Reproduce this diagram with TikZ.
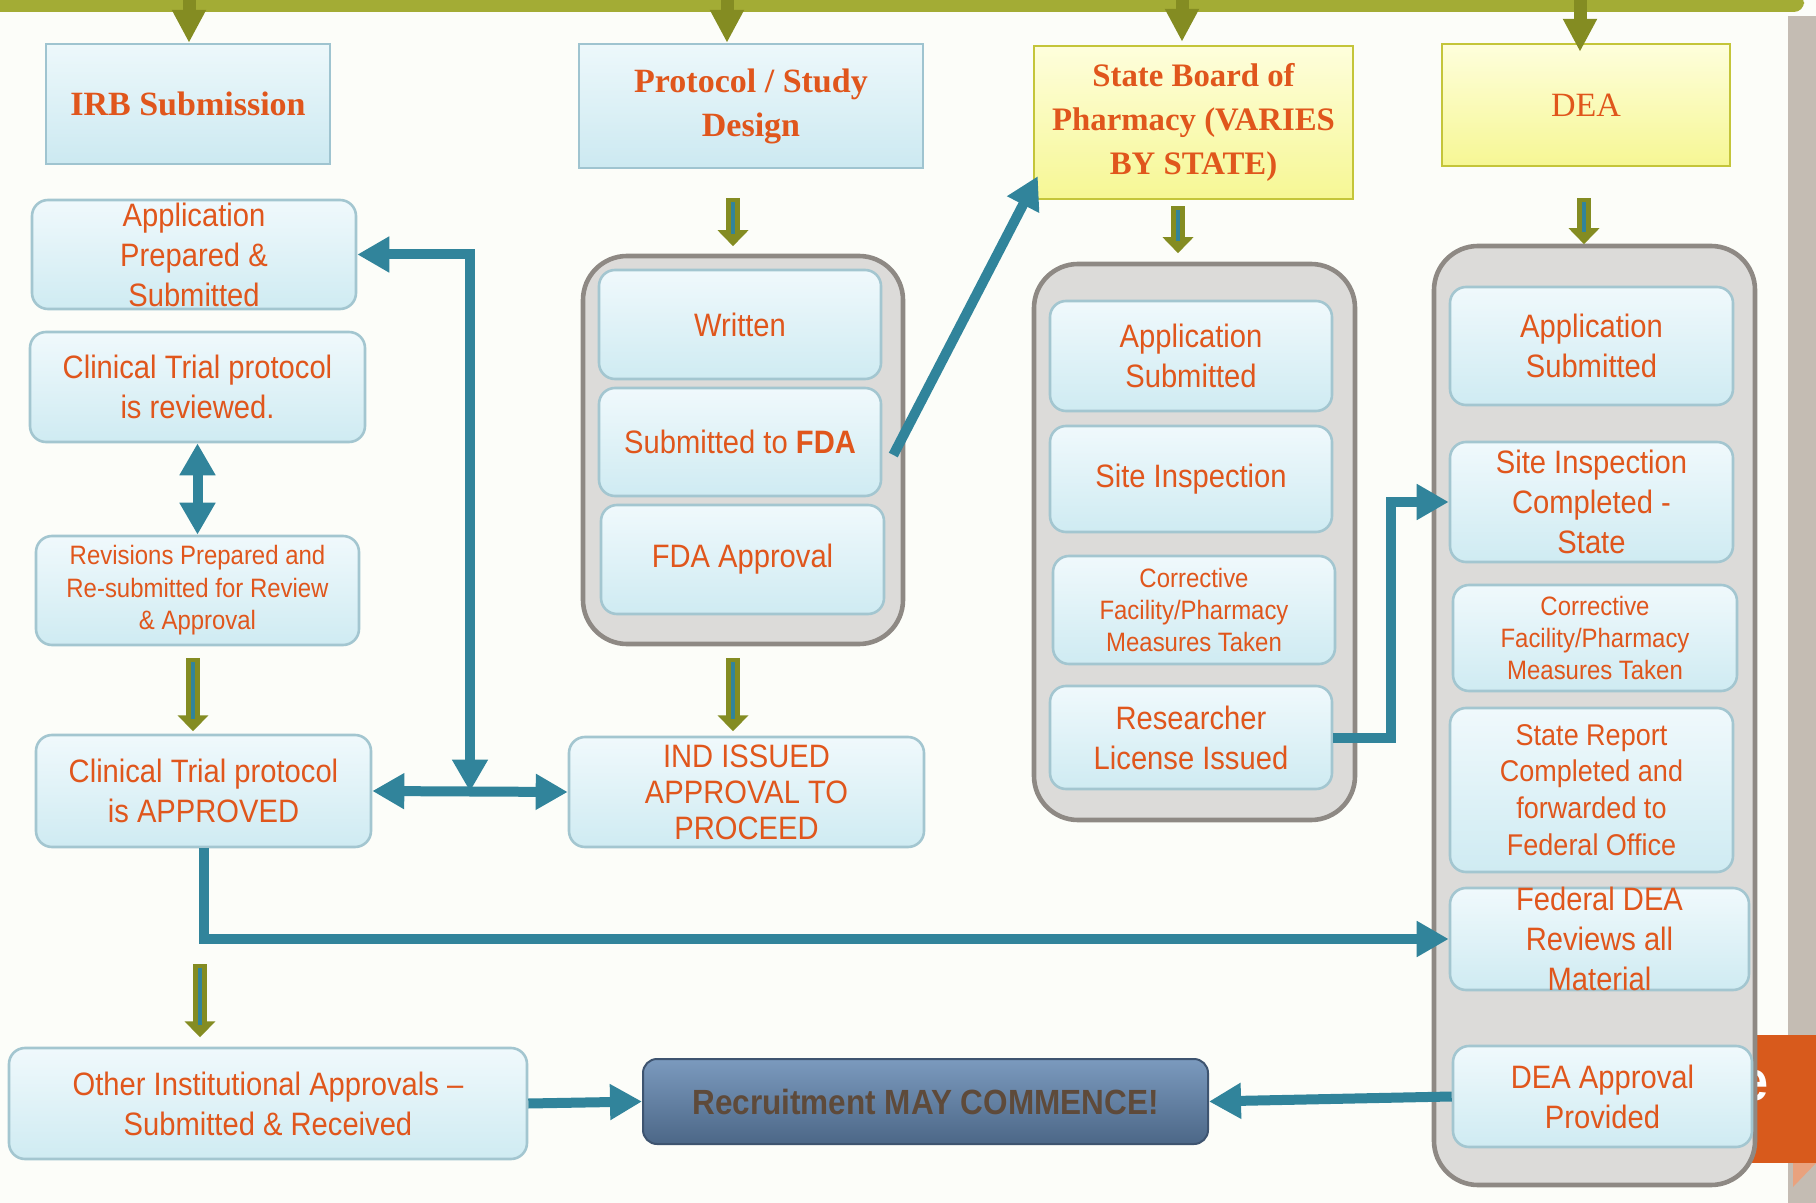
\documentclass[tikz,border=0pt]{standalone}
\usepackage{fontspec}
\usetikzlibrary{arrows.meta,positioning,fit,calc,shapes}
\pgfdeclarelayer{background}
\pgfsetlayers{background,main}
\newfontfamily\boxfont[FakeStretch=0.9]{Liberation Sans}
\newfontfamily\headfont{Liberation Serif}
\definecolor{txtorange}{HTML}{E0561C}
\definecolor{boxtop}{HTML}{F0F9FC}
\definecolor{boxbot}{HTML}{CFEBF2}
\definecolor{boxline}{HTML}{A3C6D0}
\definecolor{headtop}{HTML}{EDF8FB}
\definecolor{headbot}{HTML}{CCE9F1}
\definecolor{headline}{HTML}{9FC4D0}
\definecolor{yeltop}{HTML}{FEFEDC}
\definecolor{yelbot}{HTML}{F6F794}
\definecolor{yelline}{HTML}{C4C53A}
\definecolor{panelfill}{HTML}{DCDBD9}
\definecolor{panelline}{HTML}{8E8984}
\definecolor{linkteal}{HTML}{31849B}
\definecolor{olivec}{HTML}{848C22}
\definecolor{rectop}{HTML}{7B9ABE}
\definecolor{recmid}{HTML}{6282A7}
\definecolor{recbot}{HTML}{4C6787}
\definecolor{recline}{HTML}{3E5470}
\definecolor{rectxt}{HTML}{5E4A3A}
\definecolor{bgc}{HTML}{FCFDF9}
\definecolor{bandc}{HTML}{C4BCB3}
\definecolor{tabc}{HTML}{D85A1C}
\definecolor{tablight}{HTML}{E9A27E}
\definecolor{barlight}{HTML}{A3AC35}
\definecolor{bardark}{HTML}{4F5A0E}

\begin{document}
\begin{tikzpicture}[x=0.5pt,y=-0.5pt,on grid,
   >={Triangle[width=17pt,length=16pt]},
   box/.style={draw=boxline,line width=1.3pt,rounded corners=8pt,top color=boxtop,bottom color=boxbot,
      text=txtorange,align=center,inner sep=1pt,font=\boxfont\fontsize{16.2}{20}\selectfont},
   smallbox/.style={box,font=\boxfont\fontsize{13.3}{16.2}\selectfont},
   boxtxt/.style={text=txtorange,align=center,inner sep=0pt,font=\boxfont\fontsize{16.2}{20}\selectfont},
   head/.style={draw=headline,line width=1.2pt,top color=headtop,bottom color=headbot,
      text=txtorange,align=center,font=\headfont\bfseries\fontsize{17}{22}\selectfont},
   yhead/.style={head,draw=yelline,top color=yeltop,bottom color=yelbot},
   panel/.style={draw=panelline,line width=2.3pt,fill=panelfill,rounded corners=22pt,inner sep=0pt},
   recruitbox/.style={draw=recline,line width=1pt,rounded corners=7pt,top color=rectop,middle color=recmid,
      bottom color=recbot,text=rectxt,font=\boxfont\bfseries\fontsize{17.5}{20}\selectfont},
   link/.style={draw=linkteal,line width=5pt,->},
   toparrow/.style={draw=olivec,line width=6.5pt,-{Triangle[width=16pt,length=16.5pt]}},
   downarrow/.style={draw=olivec,line width=7pt,-{Triangle[width=15pt,length=8pt]},
      postaction={draw=linkteal,line width=2pt,-,shorten >=6pt,shorten <=2pt}}]

   \useasboundingbox (0,0) rectangle (1816,1203);
   \begin{pgfonlayer}{background}
   \fill[bgc] (0,0) rectangle (1816,1203);
   \fill[bandc] (1788,16) rectangle (1816,1203);
   \fill[tabc] (1747,1035) rectangle (1816,1163);
   \fill[tablight] (1793,1163) -- (1816,1163) -- (1793,1187) -- cycle;
   \node[text=white,font=\boxfont\bfseries\fontsize{28}{30}\selectfont] (tabtext) at (1754,1086) {e};
   \node[fit={(-10,-6) (1804,12)},inner sep=0pt,rounded corners=5pt,
      top color=barlight,middle color=bardark,bottom color=barlight] (bar) {};
   \node[panel,fit={(583,256) (903,644)}] (protoPanel) {};
   \node[panel,fit={(1034,264) (1355,820)}] (statePanel) {};
   \node[panel,fit={(1434,246) (1755,1185)}] (deaPanel) {};
   \end{pgfonlayer}

   % column headers
   \node[head,minimum width=142pt,minimum height=60pt] (irb) at (188,104) {IRB Submission};
   \node[head,minimum width=172pt,minimum height=62pt] (proto) at (751,106) {Protocol / Study\\Design};
   \node[yhead,font=\headfont\bfseries\fontsize{16.4}{22}\selectfont,minimum width=159.5pt,minimum height=76.5pt] (sbp) at (1193.5,122.5) {State Board of\\Pharmacy (VARIES\\BY STATE)};
   \node[yhead,font=\headfont\fontsize{17}{22}\selectfont,minimum width=144pt,minimum height=61pt] (dea) at (1586,105) {DEA};

   % IRB column
   \node[box,minimum width=162pt,minimum height=54.5pt] (appPrep) [below=75.25pt of irb,xshift=3pt] {Application\\Prepared \&\\Submitted};
   \node[box,minimum width=167.5pt,minimum height=55pt] (reviewed) [below=66.25pt of appPrep,xshift=1.75pt] {Clinical Trial protocol\\is reviewed.};
   \node[smallbox,minimum width=161.5pt,minimum height=54.5pt] (revisions) [below=101.75pt of reviewed] {Revisions Prepared and\\Re-submitted for Review\\\& Approval};
   \node[box,minimum width=167.5pt,minimum height=56pt] (approved) [below=100.25pt of revisions,xshift=3pt] {Clinical Trial protocol\\is APPROVED};
   \node[box,minimum width=259pt,minimum height=55.5pt] (other) [below=156.25pt of approved,xshift=32.25pt] {Other Institutional Approvals –\\Submitted \& Received};

   % protocol column
   \node[box,minimum width=141pt,minimum height=54.5pt] (written) [below=109.25pt of proto,xshift=-5.5pt] {Written};
   \node[box,minimum width=141pt,minimum height=54pt] (subFDA) [below=58.75pt of written] {Submitted to \textbf{FDA}};
   \node[box,minimum width=141.5pt,minimum height=54.5pt] (fdaAppr) [below=58.75pt of subFDA,xshift=1.25pt] {FDA Approval};
   \node[box,font=\boxfont\fontsize{16.2}{18}\selectfont,minimum width=177.5pt,minimum height=55pt] (ind) [below=116.25pt of fdaAppr,xshift=2pt] {IND ISSUED\\APPROVAL TO\\PROCEED};

   % state board column
   \node[box,minimum width=141pt,minimum height=55pt] (stApp) [below=116.75pt of sbp,xshift=-1.25pt] {Application\\Submitted};
   \node[box,minimum width=141pt,minimum height=53pt] (stSite) [below=61.5pt of stApp] {Site Inspection};
   \node[smallbox,minimum width=141pt,minimum height=54pt] (stCorr) [below=65.5pt of stSite,xshift=1.5pt] {Corrective\\Facility/Pharmacy\\Measures Taken};
   \node[box,minimum width=141pt,minimum height=51.5pt] (stLic) [below=63.75pt of stCorr,xshift=-1.5pt] {Researcher\\License Issued};

   % DEA column
   \node[box,minimum width=141.5pt,minimum height=59pt] (dApp) [below=120.5pt of dea,xshift=2.75pt] {Application\\Submitted};
   \node[box,minimum width=141.5pt,minimum height=60pt] (dSite) [below=78pt of dApp] {Site Inspection\\Completed -\\State};
   \node[smallbox,minimum width=142pt,minimum height=53pt] (dCorr) [below=68pt of dSite,xshift=1.75pt] {Corrective\\Facility/Pharmacy\\Measures Taken};
   \node[box,font=\boxfont\fontsize{15}{18.4}\selectfont,minimum width=141.5pt,minimum height=82pt] (dRep) [below=76pt of dCorr,xshift=-1.75pt] {State Report\\Completed and\\forwarded to\\Federal Office};
   \node[box,minimum width=149.5pt,minimum height=51pt,label={[boxtxt]center:Federal DEA\\Reviews all\\Material}] (dFed) [below=74.5pt of dRep,xshift=4pt] {};
   \node[box,minimum width=149.5pt,minimum height=50.5pt] (dAppr) [below=78.75pt of dFed,xshift=1.5pt] {DEA Approval\\Provided};

   \node[recruitbox,minimum width=282.5pt,minimum height=42.5pt] (recruit) at (925.5,1101.5) {Recruitment MAY COMMENCE!};

   % olive arrows
   \draw[toparrow] (irb.north) ++(1,-47) -- ++(0,47);
   \draw[toparrow] (proto.north) ++(-24,-44) -- ++(0,44);
   \draw[toparrow] (sbp.north) ++(-11.5,-46) -- ++(0,43);
   \draw[toparrow] (dea.north) ++(-6,-44) -- ++(0,53);
   \draw[downarrow] (revisions.south) ++(-4.5,12) -- ++(0,73);
   \draw[downarrow] (approved.south) ++(-3.5,116) -- ++(0,73);
   \draw[downarrow] (proto.south) ++(-18,29) -- ++(0,48);
   \draw[downarrow] (fdaAppr.south) ++(-9.5,43) -- ++(0,73);
   \draw[downarrow] (sbp.south) ++(-15.5,6) -- ++(0,47);
   \draw[downarrow] (dea.south) ++(-2,31) -- ++(0,46);

   % teal links
   \coordinate (junc) at ($(approved.east)!0.5!(ind.west)$);
   \draw[link,<->] (appPrep.east) -| (junc);
   \draw[link,<->] (approved.east) -- (ind.west);
   \draw[link,<->] (reviewed.south) -- (revisions.north);
   \draw[link] (approved.south) |- (dFed.west);
   \draw[link] (other.east) -- (recruit.west);
   \draw[link] (dAppr.west) -- (recruit.east);
   \draw[link] ([shift={(11,13)}]subFDA.east) -- ([shift={(5,-24)}]sbp.south west);
   \draw[link] (stLic.east) -| ([xshift=-29pt]dSite.west) -- (dSite.west);
\end{tikzpicture}
\end{document}
